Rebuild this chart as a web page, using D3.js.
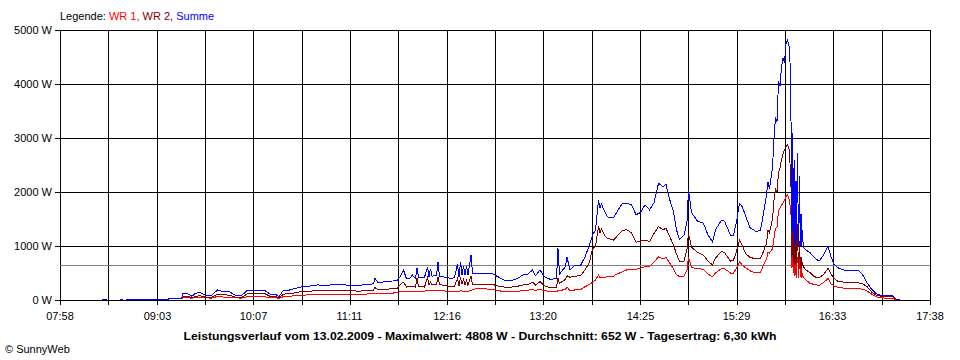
<!DOCTYPE html>
<html>
<head>
<meta charset="utf-8">
<script src="https://cdn.jsdelivr.net/npm/d3@7"></script>
<style>
    body { margin: 0; background: #fff; }
    svg { display: block; font-family: "Liberation Sans", Arial, sans-serif; font-size: 11px; }
</style>
</head>
<body>
<div id="chart"></div>
<script>

// sample times (HH:MM or HH:MM:SS), shared by all three series
var times = [
    "08:26","08:29","08:30","08:38","08:40","08:41","08:42","08:55","09:05","09:13","09:17",
    "09:19","09:20","09:23","09:26","09:28","09:31","09:35","09:39","09:43","09:47","09:51","09:55","09:59",
    "10:03","10:09","10:14","10:18","10:22","10:24","10:27","10:31","10:35","10:39","10:45","10:50","10:55",
    "11:01","11:06","11:11","11:17","11:22","11:27","11:28","11:30","11:35","11:41","11:43","11:45","11:47","11:49","11:51","11:53","11:55","11:56","11:57",
    "12:01","12:03","12:04","12:05","12:06","12:09","12:10","12:11","12:15","12:19","12:21","12:23","12:24","12:25","12:26","12:27","12:28","12:29","12:30","12:32","12:33","12:35","12:41","12:46","12:50","12:54","12:59",
    "13:03","13:07","13:10","13:13","13:15","13:18","13:21","13:25","13:29","13:30","13:31","13:35","13:36","13:38","13:41","13:45","13:48","13:51","13:53","13:55","13:57","13:58","13:59",
    "14:01","14:03","14:07","14:09","14:13","14:16","14:19","14:22","14:25","14:28","14:31","14:34","14:37","14:40","14:42","14:44","14:47","14:49","14:51","14:54","14:56","14:57","14:59",
    "15:03","15:07","15:10","15:13","15:15","15:19","15:21","15:25","15:27","15:29","15:31","15:33","15:35","15:38","15:42","15:45","15:47","15:49","15:50","15:51","15:53","15:54","15:55","15:56","15:57","15:58","15:59",
    "16:00","16:01","16:02","16:03","16:04","16:04:30","16:05","16:05:30","16:06","16:06:30","16:07","16:07:30","16:08","16:08:30","16:09","16:09:30","16:10","16:10:30","16:11","16:11:30","16:12","16:12:30","16:13","16:13:30","16:15","16:18","16:21","16:24","16:27","16:30","16:32","16:34","16:37","16:41","16:50","16:53","16:56","16:59",
    "17:02","17:05","17:13","17:15","17:18"
];

// Summe (W)
var summe = [
    15,15,null,15,15,null,10,10,15,20,30,
    30,125,120,70,120,140,90,85,185,155,150,85,80,
    185,180,185,110,100,60,185,185,215,245,260,280,265,
    290,280,275,275,280,300,400,320,340,355,370,440,555,390,400,460,400,585,420,
    420,610,430,580,440,460,710,440,420,400,420,660,420,710,470,620,470,620,460,835,500,490,485,490,430,370,360,
    400,470,480,555,450,555,430,380,400,955,480,620,790,560,640,640,800,1020,1200,1300,1850,1700,1780,
    1640,1540,1520,1620,1790,1790,1760,1580,1620,1760,1670,1800,2160,2100,2140,1900,1640,1300,1120,1200,1450,2040,1620,
    1460,1420,1200,1080,1300,1480,1460,1200,1200,1450,1790,1720,1560,1340,1270,1290,1600,1950,2190,2060,2450,3000,3380,3300,4050,3960,4320,
    4480,4400,4740,4808,4700,4570,4100,2950,1300,3100,1200,2600,1000,2200,1100,2720,1800,1000,2300,1000,1600,1000,1300,980,930,880,780,720,830,1000,800,660,590,555,555,470,320,200,
    120,90,90,20,5
];

// WR 2 (W)
var wr2 = [
    null,null,null,null,null,null,null,null,null,null,null,
    15,60,65,50,60,80,55,50,110,95,90,55,45,
    115,120,125,70,60,40,110,115,135,160,165,175,170,
    175,175,170,165,170,180,230,190,200,210,220,290,330,240,250,250,240,400,250,
    240,410,280,340,285,290,420,285,270,245,255,400,265,420,290,380,280,360,270,440,290,285,285,290,260,240,240,
    255,280,290,330,275,340,260,230,240,400,310,380,450,420,440,450,555,700,950,990,1360,1250,1320,
    1200,1140,1110,1170,1290,1300,1240,1070,1090,1110,1080,1230,1360,1300,1330,1200,1020,850,720,720,950,1235,980,
    880,830,720,650,780,895,880,720,740,900,1110,1000,860,790,760,770,900,1050,1300,1250,1500,1850,2050,2000,2350,2450,2600,
    2700,2780,2840,2870,2800,2650,2300,2000,800,1900,700,1500,650,1350,700,1400,900,600,1100,620,800,600,700,620,560,510,430,410,470,585,480,400,340,330,320,300,250,150,
    90,70,60,10,null
];

// WR 1 (W)
var wr1 = [
    null,null,null,null,null,null,null,null,null,null,null,
    10,45,45,30,50,50,40,35,65,55,55,40,35,
    65,60,60,45,40,25,65,70,80,90,95,100,100,
    110,110,105,110,110,120,120,125,125,130,145,150,150,150,150,155,150,155,155,
    165,175,175,175,175,175,180,175,165,160,160,165,160,170,165,165,160,165,160,180,190,205,205,200,175,155,150,
    160,175,180,200,175,200,170,160,160,170,170,200,245,170,185,190,245,290,330,370,460,420,410,
    420,430,440,480,520,560,570,570,590,615,615,700,800,760,790,700,580,470,430,440,560,800,600,
    580,570,480,430,500,585,580,500,500,590,710,640,600,540,500,510,650,760,880,870,950,1150,1330,1350,1650,1700,1750,
    1800,1850,1920,1945,1880,1800,1700,1500,600,1300,500,1050,450,900,400,800,700,400,900,420,650,400,500,420,380,310,285,270,320,400,300,260,230,220,215,200,170,110,
    60,40,30,5,null
];

var xTickLabels = ["07:58","09:03","10:07","11:11","12:16","13:20","14:25","15:29","16:33","17:38"];
var yTicks = [0, 1000, 2000, 3000, 4000, 5000];
var average = 652;
var legendItems = [
    {label: "WR 1, ", color: "#ff0000"},
    {label: "WR 2, ", color: "#800000"},
    {label: "Summe", color: "#0000ff"}
];
var title = "Leistungsverlauf vom 13.02.2009 - Maximalwert: 4808 W - Durchschnitt: 652 W - Tagesertrag: 6,30 kWh";

function powerChart() {
    var width = 960, height = 360,
        margin = {top: 30, right: 30, bottom: 60, left: 60};

    var parse = d3.timeParse("%H:%M:%S");
    function parseTime(s) { return parse(s.length === 5 ? s + ":00" : s); }

    var x = d3.scaleTime()
        .domain([parseTime(xTickLabels[0]), parseTime(xTickLabels[xTickLabels.length - 1])])
        .range([margin.left, width - margin.right]);

    var y = d3.scaleLinear()
        .domain([0, 5000])
        .range([height - margin.bottom, margin.top]);

    var svg = d3.select("#chart").append("svg")
        .attr("width", width)
        .attr("height", height);

    // grid lines: one between each pair of labelled times
    var t0 = x.domain()[0].getTime(), t1 = x.domain()[1].getTime();
    var nGrid = (xTickLabels.length - 1) * 2;
    var gridTimes = d3.range(nGrid + 1).map(function(i) { return new Date(t0 + i * (t1 - t0) / nGrid); });
    function px(v) { return Math.round(v) + 0.5; }

    var grid = svg.append("g")
        .attr("stroke", "#000")
        .attr("shape-rendering", "crispEdges");

    grid.selectAll(".vline")
        .data(gridTimes)
        .enter().append("line")
        .attr("x1", function(d) { return px(x(d)); })
        .attr("x2", function(d) { return px(x(d)); })
        .attr("y1", y(5000))
        .attr("y2", y(0) + 5);

    grid.selectAll(".hline")
        .data(yTicks)
        .enter().append("line")
        .attr("x1", margin.left - 5)
        .attr("x2", px(x.range()[1]))
        .attr("y1", function(d) { return px(y(d)); })
        .attr("y2", function(d) { return px(y(d)); });

    // average line
    svg.append("line")
        .attr("x1", margin.left)
        .attr("x2", x.range()[1])
        .attr("y1", px(y(average)))
        .attr("y2", px(y(average)))
        .attr("stroke", "#808080")
        .attr("shape-rendering", "crispEdges");

    // y labels
    svg.append("g").selectAll("text")
        .data(yTicks)
        .enter().append("text")
        .attr("x", margin.left - 8)
        .attr("y", function(d) { return y(d) + 4; })
        .attr("text-anchor", "end")
        .text(function(d) { return d + " W"; });

    // x labels
    svg.append("g").selectAll("text")
        .data(xTickLabels)
        .enter().append("text")
        .attr("x", function(d) { return x(parseTime(d)); })
        .attr("y", y(0) + 20)
        .attr("text-anchor", "middle")
        .text(function(d) { return d; });

    // series
    var series = [
        {values: wr1, color: legendItems[0].color},
        {values: wr2, color: legendItems[1].color},
        {values: summe, color: legendItems[2].color}
    ];

    var line = d3.line()
        .defined(function(d) { return d.v != null; })
        .x(function(d) { return x(d.t); })
        .y(function(d) { return y(d.v); });

    series.forEach(function(s) {
        var pts = times.map(function(t, i) { return {t: parseTime(t), v: s.values[i]}; });
        svg.append("path")
            .datum(pts)
            .attr("fill", "none")
            .attr("stroke", s.color)
            .attr("stroke-width", 1)
            .attr("shape-rendering", "crispEdges")
            .attr("d", line);
    });

    // legend
    var legend = svg.append("text")
        .attr("x", margin.left)
        .attr("y", 20);
    legend.append("tspan").attr("fill", "#000").text("Legende: ");
    legendItems.forEach(function(d) {
        legend.append("tspan").attr("fill", d.color).text(d.label);
    });

    // bottom caption
    svg.append("text")
        .attr("x", width / 2)
        .attr("y", 340)
        .attr("text-anchor", "middle")
        .attr("font-weight", "bold")
        .attr("textLength", 593)
        .attr("lengthAdjust", "spacingAndGlyphs")
        .text(title);

    svg.append("text")
        .attr("x", 5)
        .attr("y", 353)
        .text("\u00a9 SunnyWeb");
}

powerChart();
</script>
</body>
</html>
